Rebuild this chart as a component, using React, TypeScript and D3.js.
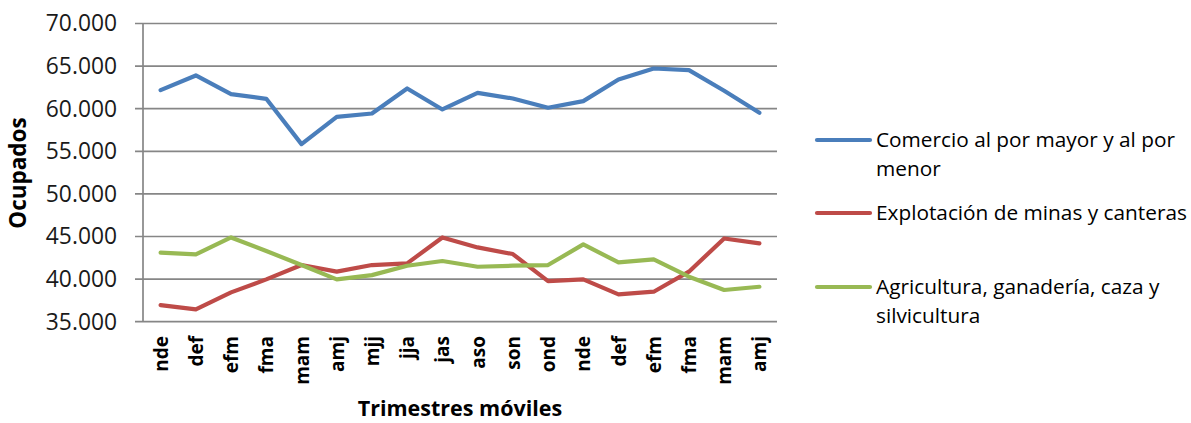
import React from "react";
import * as d3 from "d3";

const categories = ["nde", "def", "efm", "fma", "mam", "amj", "mjj", "jja", "jas", "aso", "son", "ond", "nde", "def", "efm", "fma", "mam", "amj"];
const comercio = [62180, 63900, 61710, 61160, 55840, 59050, 59440, 62375, 59910, 61866, 61200, 60110, 60890, 63430, 64720, 64525, 62100, 59520];
const mineria = [36950, 36450, 38440, 39970, 41650, 40870, 41650, 41840, 44890, 43720, 42940, 39770, 39970, 38210, 38520, 40870, 44770, 44190];
const agricultura = [43100, 42900, 44890, 43300, 41650, 39970, 40470, 41570, 42120, 41450, 41570, 41650, 44070, 41960, 42310, 40280, 38720, 39100];
const seriesNames = ["Comercio al por mayor y al por menor", "Explotación de minas y canteras", "Agricultura, ganadería, caza y silvicultura"];
const legendLines = [["Comercio al por mayor y al por", "menor"], ["Explotación de minas y canteras"], ["Agricultura, ganadería, caza y", "silvicultura"]];
const yTicks = [35000, 40000, 45000, 50000, 55000, 60000, 65000, 70000];
const colors = ["#4a7ebb", "#be4b48", "#98b954"];
const yTitle = "Ocupados";
const xTitle = "Trimestres móviles";

const W = 1191, H = 423;
const plot = { left: 143, right: 777, top: 23.5, bottom: 321.7 };
const FONT = "'Open Sans', sans-serif";

export default function App() {
  const x = d3.scaleBand<number>().domain(d3.range(categories.length)).range([plot.left, plot.right]);
  const y = d3.scaleLinear().domain([35000, 70000]).range([plot.bottom, plot.top]);
  const fmt = (v: number) => d3.format(",")(v).replace(/,/g, ".");
  const line = d3.line<number>().x((_, i) => (x(i) as number) + x.bandwidth() / 2).y((v) => y(v));
  const data = [comercio, mineria, agricultura];
  const legendY = [140, 213, 287];

  return (
    <svg width={W} height={H} style={{ position: "absolute", left: 0, top: 0, background: "#fff" }} fontFamily={FONT}>
      {yTicks.map((t) => (
        <g key={t}>
          <line x1={plot.left - 8} x2={plot.right} y1={y(t)} y2={y(t)} stroke="#868686" strokeWidth={1.7} />
          <text x={117} y={y(t)} dy="0.35em" textAnchor="end" fontSize={22.8} fill="#1a1a1a">{fmt(t)}</text>
        </g>
      ))}
      <line x1={plot.left} x2={plot.left} y1={plot.top} y2={plot.bottom} stroke="#868686" strokeWidth={1.7} />
      {categories.map((c, i) => {
        const cx = (x(i) as number) + x.bandwidth() / 2;
        return (
          <text key={i} transform={`translate(${cx + 7},336) rotate(-90)`} textAnchor="end" fontSize={19} fontWeight="bold" fill="#000">{c}</text>
        );
      })}
      {data.map((d, k) => (
        <path key={k} d={line(d) || ""} fill="none" stroke={colors[k]} strokeWidth={4.2} strokeLinejoin="round" strokeLinecap="round" />
      ))}
      <text transform={`translate(26,173) rotate(-90)`} textAnchor="middle" fontSize={22.5} fontWeight="bold" fill="#000">{yTitle}</text>
      <text x={(plot.left + plot.right) / 2} y={416} textAnchor="middle" fontSize={21.5} fontWeight="bold" fill="#000">{xTitle}</text>
      {seriesNames.map((name, k) => (
        <g key={name}>
          <line x1={817} x2={870} y1={legendY[k]} y2={legendY[k]} stroke={colors[k]} strokeWidth={4.2} strokeLinecap="round" />
          <text x={876} y={legendY[k]} fontSize={20.8} fill="#000">
            {legendLines[k].map((ln, j) => (
              <tspan key={j} x={876} dy={j === 0 ? "0.35em" : 29}>{ln}</tspan>
            ))}
          </text>
        </g>
      ))}
    </svg>
  );
}
